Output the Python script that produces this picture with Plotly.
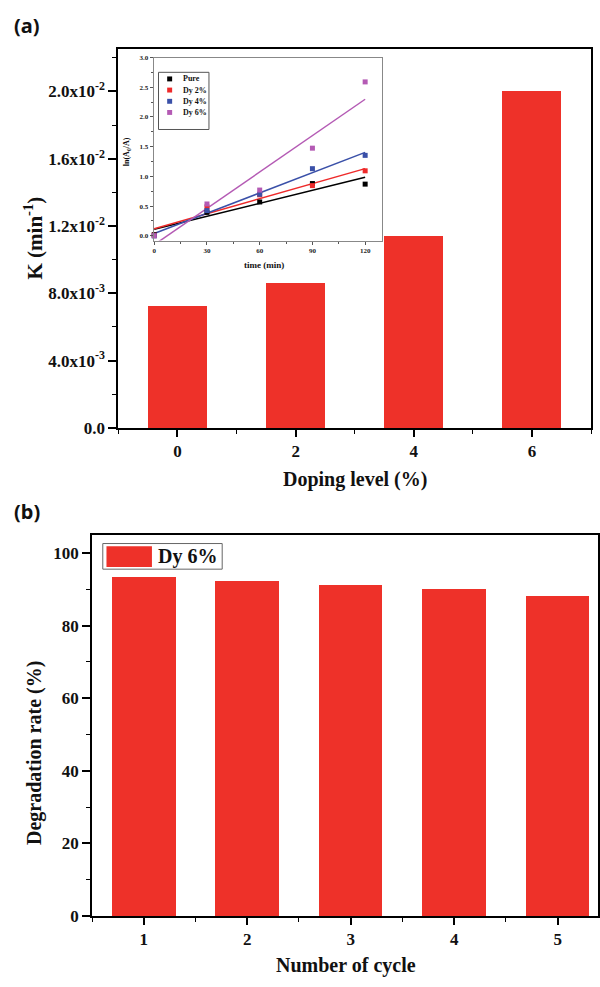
import numpy as np
import plotly.graph_objects as go

# ---------------- data ----------------
doping_levels = [0, 2, 4, 6]
rate_constants = [0.00721, 0.00862, 0.01138, 0.0200]

time_min = [0, 30, 60, 90, 120]
inset_series = ["Pure", "Dy 2%", "Dy 4%", "Dy 6%"]
ln_pure = [0.02, 0.395, 0.57, 0.88, 0.87]
ln_dy2 = [0.01, 0.487, 0.69, 0.845, 1.094]
ln_dy4 = [0.0, 0.425, 0.70, 1.13, 1.354]
ln_dy6 = [0.0, 0.536, 0.77, 1.475, 2.59]

cycles = [1, 2, 3, 4, 5]
degradation = [93.4, 92.3, 91.2, 90.2, 88.2]

y_tickvals_a = [0, 0.004, 0.008, 0.012, 0.016, 0.020]
y_ticktext_a = ["0.0", "4.0x10<sup>-3</sup>", "8.0x10<sup>-3</sup>", "1.2x10<sup>-2</sup>",
                "1.6x10<sup>-2</sup>", "2.0x10<sup>-2</sup>"]

# ---------------- style ----------------
W, H = 600, 987
BAR = "#EE3129"
SERIF = "Liberation Serif"
inset_colors = ["#000000", "#EE2A2A", "#3A50A8", "#B45AB4"]


def PX(x):
    return x / W


def PY(y):
    return 1 - y / H


fig = go.Figure()

# panel (a) bars
fig.add_trace(go.Bar(x=doping_levels, y=rate_constants, width=1.0, marker=dict(color=BAR, line=dict(width=0)),
                     xaxis="x", yaxis="y", showlegend=False))

# inset: fit lines and points
series = [ln_pure, ln_dy2, ln_dy4, ln_dy6]
t = np.array(time_min, dtype=float)
for name, ys, col in zip(inset_series, series, inset_colors):
    k, b = np.polyfit(t, np.array(ys), 1)
    fit_t = [float(t[0]), float(t[-1])]
    fig.add_trace(go.Scatter(x=fit_t, y=[k * v + b for v in fit_t], mode="lines",
                             line=dict(color=col, width=1.5), xaxis="x2", yaxis="y2",
                             showlegend=False, hoverinfo="skip"))
for name, ys, col in zip(inset_series, series, inset_colors):
    fig.add_trace(go.Scatter(x=time_min, y=ys, mode="markers", name=name,
                             marker=dict(symbol="square", size=5, color=col),
                             cliponaxis=False, xaxis="x2", yaxis="y2", showlegend=False))

# panel (b) bars
fig.add_trace(go.Bar(x=cycles, y=degradation, width=0.615, marker=dict(color=BAR, line=dict(width=0)),
                     xaxis="x3", yaxis="y3", showlegend=False))

tickfont_main = dict(family=SERIF, size=17, color="#111", weight="bold")
tickfont_inset = dict(family=SERIF, size=7, color="#222", weight="bold")

fig.update_layout(
    width=W, height=H,
    margin=dict(l=0, r=0, t=0, b=0),
    paper_bgcolor="white", plot_bgcolor="rgba(0,0,0,0)",
    showlegend=False,
    bargap=0,
    xaxis=dict(domain=[PX(118), PX(593)], range=[-1, 7], anchor="y",
               tickvals=doping_levels, ticks="outside", ticklen=7, tickwidth=1.5, tickcolor="black",
               minor=dict(dtick=1, tick0=0, ticks="outside", ticklen=4, tickcolor="black", tickwidth=1.2),
               showline=True, linecolor="black", linewidth=2, mirror=True,
               showgrid=False, zeroline=False, tickfont=tickfont_main),
    yaxis=dict(domain=[PY(430), PY(46)], range=[0, 0.0225], anchor="x",
               tickvals=y_tickvals_a, ticktext=y_ticktext_a, ticks="outside", ticklen=8,
               tickwidth=1.5, tickcolor="black",
               minor=dict(dtick=0.002, tick0=0, ticks="outside", ticklen=4, tickcolor="black", tickwidth=1.2),
               showline=True, linecolor="black", linewidth=2, mirror=True,
               showgrid=False, zeroline=False, tickfont=tickfont_main),
    xaxis2=dict(domain=[PX(153.3), PX(383.3)], range=[-0.4, 129.8], anchor="y2",
                tickvals=[0, 30, 60, 90, 120], ticks="outside", ticklen=3, tickwidth=1, tickcolor="#555",
                minor=dict(dtick=15, tick0=0, ticks="outside", ticklen=2, tickcolor="#555"),
                showline=True, linecolor="#888", linewidth=1, mirror=True,
                showgrid=False, zeroline=False, tickfont=tickfont_inset),
    yaxis2=dict(domain=[PY(240), PY(54.3)], range=[-0.08, 3.0], anchor="x2",
                tickvals=[0, 0.5, 1.0, 1.5, 2.0, 2.5, 3.0],
                ticktext=["0.0", "0.5", "1.0", "1.5", "2.0", "2.5", "3.0"],
                ticks="outside", ticklen=3, tickwidth=1, tickcolor="#555",
                minor=dict(dtick=0.25, tick0=0, ticks="outside", ticklen=2, tickcolor="#555"),
                showline=True, linecolor="#888", linewidth=1, mirror=True,
                showgrid=False, zeroline=False, tickfont=tickfont_inset),
    xaxis3=dict(domain=[PX(91.5), 1.0], range=[0.5, 5.39], anchor="y3",
                tickvals=cycles, ticks="outside", ticklen=7, tickwidth=1.5, tickcolor="black",
                minor=dict(dtick=0.5, tick0=0.5, ticks="outside", ticklen=4, tickcolor="black", tickwidth=1.2),
                showline=True, linecolor="black", linewidth=2, mirror=True,
                showgrid=False, zeroline=False, tickfont=tickfont_main),
    yaxis3=dict(domain=[PY(925), PY(538.5)], range=[0, 105], anchor="x3",
                tickvals=[0, 20, 40, 60, 80, 100], ticks="outside", ticklen=8, tickwidth=1.5, tickcolor="black",
                minor=dict(dtick=10, tick0=0, ticks="outside", ticklen=4, tickcolor="black", tickwidth=1.2),
                showline=True, linecolor="black", linewidth=2, mirror=True,
                showgrid=False, zeroline=False, tickfont=tickfont_main),
)

ann = []


def text(x, y, s, size, family=SERIF, angle=0, xanchor="center", weight="bold", color="#111"):
    ann.append(dict(x=PX(x), y=PY(y), xref="paper", yref="paper", text=s, showarrow=False,
                    textangle=angle, xanchor=xanchor, yanchor="middle",
                    font=dict(family=family, size=size, color=color, weight=weight)))


# panel labels
text(26, 22, "(a)", 20, family="Noto Sans")
text(26, 515, "(b)", 20, family="Noto Sans")

# axis titles
text(356, 482, "Doping level (%)", 20)
text(33, 237, "K (min<sup>-1</sup>)", 21, angle=-90)
text(33, 760, "Degradation rate (%)", 20, angle=-90)
text(347, 975, "Number of cycle", 20)
text(264, 265, "time (min)", 9)
text(127, 150, "ln(A<sub>0</sub>/A)", 8, angle=-90)

shapes = []
# inset legend
shapes.append(dict(type="rect", xref="paper", yref="paper", x0=PX(158.3), x1=PX(209), y0=PY(127.3), y1=PY(69.3),
                   line=dict(color="#555", width=1), fillcolor="rgba(0,0,0,0)"))
leg_y = [76, 87.3, 98.7, 110]
for name, col, yy in zip(inset_series, inset_colors, leg_y):
    shapes.append(dict(type="rect", xref="paper", yref="paper", x0=PX(167), x1=PX(172), y0=PY(yy + 2.5),
                       y1=PY(yy - 2.5), line=dict(width=0), fillcolor=col))
    text(181, yy, name, 8, xanchor="left")

# panel (b) legend
shapes.append(dict(type="rect", xref="paper", yref="paper", x0=PX(102.3), x1=PX(222.3), y0=PY(573.3), y1=PY(547.3),
                   line=dict(color="#666", width=1), fillcolor="white"))
shapes.append(dict(type="rect", xref="paper", yref="paper", x0=PX(106), x1=PX(151.7), y0=PY(571), y1=PY(550),
                   line=dict(width=0), fillcolor=BAR))
text(156, 560.5, "Dy 6%", 20, xanchor="left")

fig.update_layout(annotations=ann, shapes=shapes)

css_js = ("var s=document.createElement('style');"
          "s.textContent='html,body{margin:0;padding:0;overflow:hidden;width:600px;height:987px;}';"
          "document.head.appendChild(s);")
fig.write_html("out.html", config={"displayModeBar": False, "responsive": False},
               post_script=css_js)
